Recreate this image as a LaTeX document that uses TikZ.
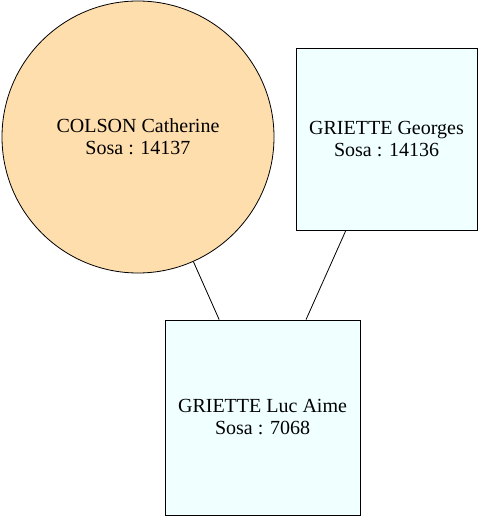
\documentclass[tikz,border=0pt]{standalone}
\usepackage{fontspec}
\setmainfont{Liberation Serif}
\begin{document}
\begin{tikzpicture}[x=1pt,y=1pt,
  person/.style={draw=black,line width=0.8pt,align=center,font=\fontsize{20}{22}\selectfont,inner sep=0pt},
  womanbox/.style={person,circle,fill={rgb,255:red,255;green,222;blue,173},minimum size=272pt},
  manbox/.style={person,rectangle,fill={rgb,255:red,240;green,255;blue,255}},
  link/.style={draw=black,line width=0.8pt}]
\useasboundingbox (0,0) rectangle (483,-521);
\node[womanbox] (colson) at (138,-137) {COLSON Catherine\\Sosa : 14137};
\node[manbox,minimum width=181pt,minimum height=182pt] (georges) at (386.5,-139) {GRIETTE Georges\\Sosa : 14136};
\node[manbox,minimum width=195pt,minimum height=195pt] (luc) at (262.5,-417.5) {GRIETTE Luc Aime\\Sosa : 7068};
\draw[link] (colson) -- (luc);
\draw[link] (georges) -- (luc);
\end{tikzpicture}
\end{document}
